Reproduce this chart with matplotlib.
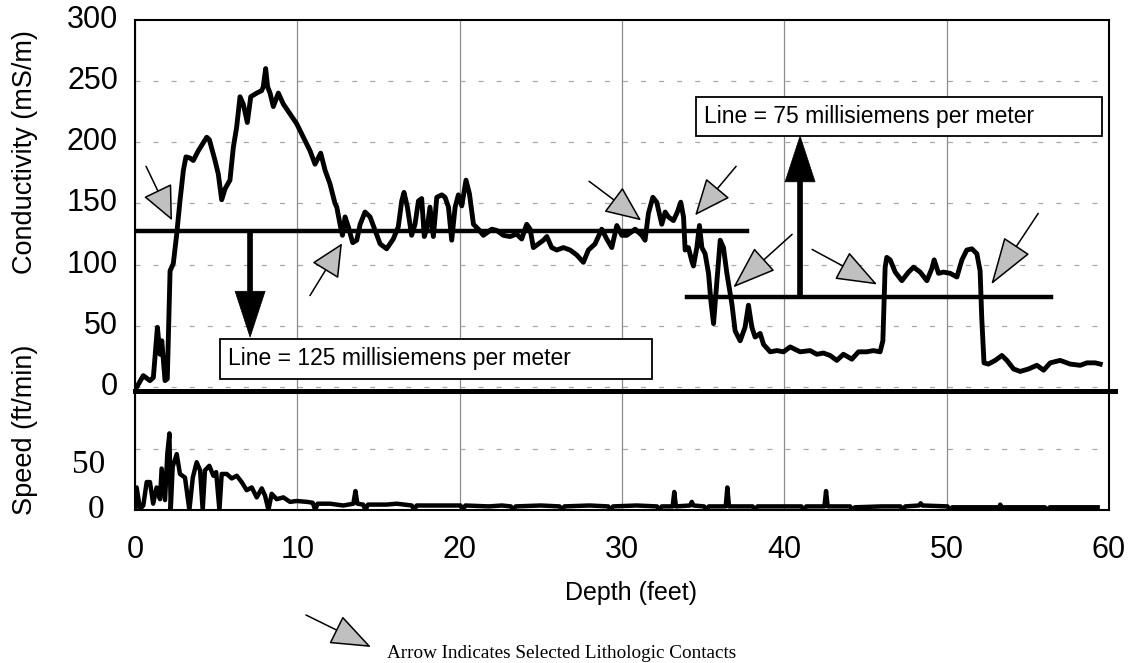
import matplotlib
matplotlib.use("Agg")
import matplotlib.pyplot as plt
from matplotlib.patches import FancyArrowPatch, Rectangle, ArrowStyle
import matplotlib.transforms as mtransforms

plt.rcParams['lines.scale_dashes'] = False
SANS = ['Liberation Sans', 'DejaVu Sans']
SERIF = ['Liberation Serif', 'DejaVu Serif']

# ---------------- data ----------------
cond_depth = [0.0, 0.1, 0.51, 0.92, 1.13, 1.38, 1.54, 1.65, 1.85, 1.99, 2.16, 2.36, 2.57, 2.77,
              2.98, 3.14, 3.39, 3.59, 3.9, 4.42, 4.58, 4.93, 5.13, 5.34, 5.55, 5.85, 6.06, 6.26,
              6.47, 6.67, 6.92, 7.13, 7.5, 7.8, 7.9, 8.05, 8.17, 8.32, 8.52, 8.83, 9.14, 9.55,
              9.96, 10.37, 10.78, 11.09, 11.44, 11.71, 12.01, 12.32, 12.43, 12.63, 12.78, 12.94,
              13.14, 13.41, 13.66, 13.87, 14.17, 14.48, 14.79, 15.1, 15.5, 15.91, 16.22, 16.43,
              16.57, 16.78, 17.04, 17.25, 17.46, 17.66, 17.82, 18.01, 18.17, 18.38, 18.59, 18.9,
              19.1, 19.31, 19.51, 19.72, 19.92, 20.13, 20.39, 20.6, 20.85, 21.15, 21.46, 21.98,
              22.28, 22.69, 23.1, 23.51, 23.82, 24.13, 24.34, 24.54, 24.85, 25.16, 25.37, 25.67,
              25.98, 26.39, 26.8, 27.21, 27.62, 27.93, 28.34, 28.75, 29.06, 29.37, 29.68, 29.99,
              30.29, 30.81, 31.22, 31.42, 31.63, 31.9, 32.14, 32.45, 32.66, 32.86, 33.17, 33.41,
              33.62, 33.79, 33.89, 34.09, 34.3, 34.4, 34.61, 34.77, 34.92, 35.12, 35.33, 35.47,
              35.64, 35.8, 36.05, 36.25, 36.46, 36.77, 36.97, 37.28, 37.58, 37.79, 38.0, 38.2,
              38.51, 38.72, 39.13, 39.54, 39.95, 40.36, 40.97, 41.59, 42.0, 42.41, 42.82, 43.23,
              43.64, 44.16, 44.57, 45.08, 45.49, 45.9, 46.07, 46.21, 46.31, 46.52, 46.83, 47.24,
              47.65, 47.96, 48.37, 48.78, 49.09, 49.23, 49.5, 49.8, 50.22, 50.63, 50.94, 51.24,
              51.55, 51.86, 52.06, 52.16, 52.3, 52.57, 52.99, 53.4, 53.71, 54.12, 54.53, 55.04,
              55.56, 55.97, 56.38, 56.99, 57.61, 58.23, 58.64, 59.15, 59.46]
cond_value = [-1, 0, 9.6, 5.5, 8, 49, 27, 38, 5.5, 7, 95, 101, 125, 152,
              177, 188, 187, 185, 193, 204, 202, 185, 174, 153, 162, 169, 196, 212,
              237, 231, 216, 237, 240, 242, 245, 260, 245, 240, 229, 240, 231, 223,
              215, 204, 193, 182, 191, 177, 166, 150, 147, 133, 124, 139,
              131, 118, 120, 133, 143, 139, 128, 117, 113, 121, 131, 152,
              159, 147, 124, 133, 152, 154, 123, 131, 147, 123, 155, 157,
              155, 147, 120, 147, 157, 148, 169, 158, 133, 129, 124, 129,
              128, 124, 123, 125, 121, 133, 129, 114, 117, 120, 123, 114,
              112, 114, 112, 108, 102, 112, 117, 129, 121, 114, 132, 124,
              124, 129, 124, 120, 142, 155, 151, 133, 143, 139, 136, 143,
              151, 139, 112, 114, 103, 99, 114, 132, 114, 109, 93, 71,
              52, 79, 120, 114, 93, 68, 46, 38, 49, 67, 49, 41,
              44, 35, 29, 30, 29, 33, 29, 30, 27, 28, 26, 22,
              27, 23, 29, 29, 30, 29, 38, 98, 106, 104, 94, 87,
              94, 98, 94, 87, 97, 104, 93, 94, 93, 90, 104, 112,
              113, 109, 95, 57, 20, 19, 22, 26, 22, 15, 13, 15,
              18, 14, 20, 22, 19, 18, 20, 20, 19]

speed_depth = [0.0, 0.1, 0.31, 0.51, 0.72, 0.92, 1.12, 1.33, 1.54, 1.64, 1.85, 1.99, 2.12, 2.2,
               2.32, 2.57, 2.77, 3.08, 3.35, 3.56, 3.8, 4.01, 4.17, 4.31, 4.58, 4.83, 5.0, 5.2,
               5.34, 5.65, 5.96, 6.27, 6.57, 6.88, 7.19, 7.5, 7.81, 8.01, 8.22, 8.42, 8.73, 9.14,
               9.55, 9.96, 10.6, 10.95, 11.1, 11.25, 12.01, 12.83, 13.45, 13.58, 13.7, 14.05, 14.2,
               14.35, 15.5, 16.12, 17.05, 17.2, 17.35, 18.6, 20.05, 20.2, 20.35, 21.8, 22.6, 23.15,
               23.3, 23.45, 25.0, 26.15, 26.3, 26.45, 28.0, 29.15, 29.3, 29.45, 30.9, 32.15, 32.3,
               32.45, 33.12, 33.22, 33.32, 34.2, 34.3, 34.4, 35.05, 35.2, 35.35, 36.39, 36.49,
               36.59, 38.05, 38.2, 38.35, 40.0, 41.05, 41.2, 41.35, 42.47, 42.57, 42.67, 44.05,
               44.2, 44.35, 46.0, 47.15, 47.3, 47.45, 48.3, 48.4, 48.5, 50.05, 50.2, 50.35, 52.0,
               53.1, 53.2, 53.3, 53.4, 55.2, 56.05, 56.2, 56.35, 58.0, 59.3]
speed_value = [0, 25, 1, 5, 31, 31, 7, 25, 12, 46, 11, 62, 85, 0,
               48, 62, 40, 36, 0, 36, 53, 44, 0, 44, 49, 38, 42, 0,
               40, 40, 35, 38, 31, 22, 25, 14, 24, 16, 0, 18, 12, 14,
               9, 10, 9, 8, 0, 7, 7, 5, 7, 21, 7, 6, 0,
               6, 6, 7, 5, 0, 5, 5, 5, 0, 5, 4, 5, 4,
               0, 4, 5, 4, 0, 4, 5, 4, 0, 4, 5, 4, 0,
               4, 4, 20, 4, 5, 9, 5, 4, 0, 4, 4, 25,
               4, 4, 0, 4, 4, 4, 0, 4, 4, 21, 4, 4,
               0, 3, 4, 4, 0, 4, 5, 7.5, 5, 4, 0, 3, 3,
               3, 0, 6, 3, 3, 3, 0, 3, 3, 3]

x_ticks = [0, 10, 20, 30, 40, 50, 60]
cond_ticks = [0, 50, 100, 150, 200, 250, 300]
speed_ticks = [0, 50]

# layout constants for the combined axis
SPEED_BASE = -100.0        # speed 0 sits at this y
SPEED_SCALE = 0.735        # y units per ft/min
ZERO_LINE = -2.7

W, H = 1128, 663
fig = plt.figure(figsize=(W / 100, H / 100), dpi=100)
ax = fig.add_axes([135 / W, 1 - 510 / H, (1109 - 135) / W, (510 - 19.5) / H])
ax.set_xlim(0, 60)
ax.set_ylim(-100, 300)

# grid
ax.set_xticks(x_ticks)
ax.set_xticklabels([str(t) for t in x_ticks], fontfamily=SANS, fontsize=22)
ax.set_yticks([-50, 0, 50, 100, 150, 200, 250])
ax.set_yticklabels([])
ax.tick_params(length=0)
ax.tick_params(axis='x', pad=18)
ax.set_axisbelow(True)
ax.xaxis.grid(True, color='#8c8c8c', lw=0.9, ls='-')
ax.yaxis.grid(True, color='#a8a8a8', lw=0.9, ls=(0, (3.6, 9.4)))
for s in ax.spines.values():
    s.set_linewidth(1.5)

# y tick labels
tr = mtransforms.blended_transform_factory(ax.transAxes, ax.transData)
for t in cond_ticks:
    ax.text(-0.0175, t, str(t), transform=tr, ha='right', va='center',
            fontfamily=SANS, fontsize=22)
for t in speed_ticks:
    ax.text(-0.031, SPEED_BASE + t * SPEED_SCALE, str(t), transform=tr, ha='right',
            va='center', fontfamily=SERIF, fontsize=24)

# series
ax.plot(cond_depth, cond_value, color='black', lw=3.5, solid_joinstyle='round', zorder=3)
ax.plot(speed_depth, [SPEED_BASE + v * SPEED_SCALE for v in speed_value], color='black',
        lw=3.2, solid_joinstyle='round', zorder=3)

# thick zero line
ax.plot([0, 60.4], [ZERO_LINE, ZERO_LINE], color='black', lw=3.6, clip_on=False, zorder=4)

# reference lines
ax.plot([0, 37.7], [127.5, 127.5], color='black', lw=3.2, zorder=4)
ax.plot([34.0, 56.4], [73.8, 73.8], color='black', lw=3.2, zorder=4)

# black arrows
for (x0, y0, x1, y1) in [(7.09, 127.5, 7.09, 41.0), (40.97, 73.8, 40.97, 205.0)]:
    ax.add_patch(FancyArrowPatch((x0, y0), (x1, y1),
                 arrowstyle=ArrowStyle('simple', head_length=33, head_width=21.6, tail_width=3.6),
                 mutation_scale=1, shrinkA=0, shrinkB=0, fc='black', ec='black', lw=0.5, zorder=5))

# text boxes
boxes = [(5.24, 6.9, 31.87, 39.8, 5.73, 23.4, 'Line = 125 millisiemens per meter'),
         (34.55, 204.8, 59.56, 236.9, 35.06, 221.2, 'Line = 75 millisiemens per meter')]
for (x0, y0, x1, y1, tx, ty, s) in boxes:
    ax.add_patch(Rectangle((x0, y0), x1 - x0, y1 - y0, fc='white', ec='black', lw=1.3, zorder=6))
    ax.text(tx, ty, s, ha='left', va='center', fontfamily=SANS, fontsize=16.5, zorder=7)

# lithologic contact arrows (tail -> tip, head length in pt)
contacts = [(0.68, 180.3, 2.28, 136.2, 22), (10.78, 74.9, 12.75, 117.4, 21),
            (27.97, 168.1, 31.18, 136.2, 23), (37.03, 180.3, 34.5, 140.3, 23.5),
            (40.48, 124.8, 36.85, 81.5, 28), (41.71, 112.5, 45.72, 83.9, 26.5),
            (55.64, 141.9, 52.74, 83.9, 31)]
for (x0, y0, x1, y1, hl) in contacts:
    ax.add_patch(FancyArrowPatch((x0, y0), (x1, y1),
                 arrowstyle=ArrowStyle('-|>', head_length=hl, head_width=10),
                 mutation_scale=1, shrinkA=0, shrinkB=0, fc='#c0c0c0', ec='black', lw=1.1,
                 zorder=5, clip_on=False))

# axis labels
fig.text(25 / W, 1 - 152 / H, 'Conductivity (mS/m)', rotation=90, ha='center', va='center',
         fontfamily=SANS, fontsize=19.5)
fig.text(25 / W, 1 - 430 / H, 'Speed (ft/min)', rotation=90, ha='center', va='center',
         fontfamily=SANS, fontsize=19.5)
fig.text(631 / W, 1 - 593 / H, 'Depth (feet)', ha='center', va='center',
         fontfamily=SANS, fontsize=18)

# legend arrow + text
fig.patches.append(FancyArrowPatch((306 / W, 1 - 615 / H), (371 / W, 1 - 647 / H),
                   transform=fig.transFigure, figure=fig,
                   arrowstyle=ArrowStyle('-|>', head_length=26, head_width=10),
                   mutation_scale=1, shrinkA=0, shrinkB=0, fc='#c0c0c0', ec='black', lw=1.1))
fig.text(387 / W, 1 - 658 / H, 'Arrow Indicates Selected Lithologic Contacts', ha='left',
         va='baseline', fontfamily=SERIF, fontsize=13.8)

fig.savefig('out.png', dpi=100)
